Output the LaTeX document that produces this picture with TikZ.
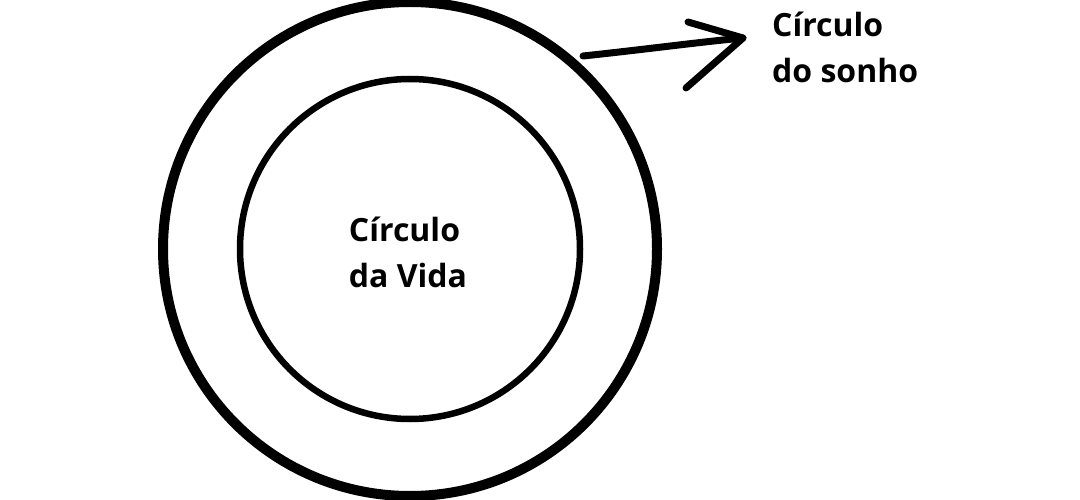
\documentclass[tikz,border=0pt]{standalone}
\usepackage{fontspec}
\setmainfont{Open Sans}
\begin{document}
\begin{tikzpicture}[x=1pt,y=-1pt,
  lbl/.style={font=\bfseries\fontsize{32}{46}\selectfont,align=left,inner sep=0pt}]
\useasboundingbox (0,0) rectangle (1080,500);
\node[circle,draw,line width=10pt,minimum size=494pt] (outer) at (410,249) {};
\node[circle,draw,line width=6.5pt,minimum size=340pt] (inner) at (410,249) {};
\node[lbl,align=left] (life) at (408,252) {Círculo\\da Vida};
\node[lbl,anchor=north west] (dream) at (772,12) {Círculo\\do sonho};
\coordinate (a0) at (583,56);
\coordinate (a1) at (743,38);
\draw[line width=7pt,line cap=round,line join=round] (a0) .. controls (640,50) and (700,42) .. (a1);
\draw[line width=7pt,line cap=round,line join=round] (688,22) -- (743,38) -- (686,88);
\end{tikzpicture}
\end{document}
